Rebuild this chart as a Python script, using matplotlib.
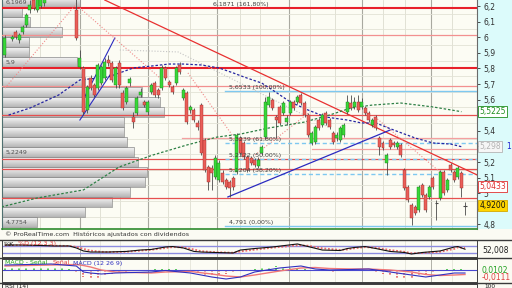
import numpy as np
import matplotlib
matplotlib.use("Agg")
import matplotlib.pyplot as plt
import matplotlib.transforms as mtransforms
from matplotlib.patches import Rectangle
from matplotlib.lines import Line2D

W, H = 512, 288

# ---- daily candles (x = session index) ----
day = [0, 2, 3, 4, 5, 6, 7, 8, 9, 10, 11] + list(range(20, 130))
opens = [5.886, 5.988, 6.033, 5.982, 6.033, 6.078, 6.174, 6.238, 6.174, 6.2, 6.219,
         6.174, 5.809, 5.803, 5.533, 5.738, 5.694, 5.674, 5.706, 5.738, 5.854,
         5.835, 5.694, 5.835, 5.642, 5.585, 5.706, 5.488, 5.514, 5.629, 5.585,
         5.521, 5.649, 5.706, 5.662, 5.674, 5.803, 5.713, 5.681, 5.706, 5.822,
         5.610, 5.642, 5.533, 5.533, 5.450, 5.565, 5.341, 5.168, 5.162, 5.104,
         5.085, 5.129, 5.085, 5.072, 5.097, 5.136, 5.354, 5.322, 5.232, 5.226,
         5.213, 5.174, 5.258, 5.360, 5.565, 5.597, 5.488, 5.553, 5.514, 5.456,
         5.514, 5.585, 5.585, 5.629, 5.578, 5.501, 5.322, 5.328, 5.469, 5.437,
         5.514, 5.469, 5.386, 5.354, 5.341, 5.373, 5.521, 5.578, 5.553, 5.585,
         5.553, 5.546, 5.514, 5.437, 5.488, 5.354, 5.322, 5.194, 5.341, 5.322,
         5.296, 5.309, 5.149, 5.040, 4.924, 4.912, 4.892, 5.053, 4.988, 4.976,
         5.097, 4.944, 4.969, 5.136, 5.021, 5.181, 5.136, 5.104, 5.129, 4.918]
highs = [6.014, 6.014, 6.046, 6.027, 6.078, 6.155, 6.238, 6.258, 6.271, 6.277, 6.28,
         6.251, 5.918, 5.815, 5.694, 5.758, 5.706, 5.835, 5.822, 5.867, 5.886,
         5.847, 5.815, 5.854, 5.662, 5.687, 5.745, 5.521, 5.623, 5.674, 5.597,
         5.597, 5.706, 5.719, 5.674, 5.822, 5.815, 5.726, 5.694, 5.815, 5.841,
         5.674, 5.655, 5.565, 5.546, 5.469, 5.578, 5.354, 5.181, 5.181, 5.245,
         5.213, 5.149, 5.097, 5.085, 5.110, 5.386, 5.367, 5.335, 5.245, 5.238,
         5.226, 5.232, 5.309, 5.617, 5.649, 5.610, 5.501, 5.565, 5.591, 5.501,
         5.597, 5.597, 5.629, 5.642, 5.591, 5.514, 5.399, 5.437, 5.482, 5.514,
         5.527, 5.482, 5.399, 5.392, 5.431, 5.450, 5.629, 5.629, 5.617, 5.629,
         5.610, 5.559, 5.527, 5.482, 5.501, 5.367, 5.335, 5.258, 5.354, 5.335,
         5.335, 5.322, 5.162, 5.053, 4.937, 4.924, 5.053, 5.065, 5.001, 5.053,
         5.110, 4.956, 5.149, 5.149, 5.097, 5.194, 5.149, 5.174, 5.142, 4.944]
lows = [5.873, 5.976, 5.988, 5.963, 6.021, 6.065, 6.155, 6.174, 6.162, 6.187, 6.2,
        5.982, 5.796, 5.501, 5.514, 5.662, 5.617, 5.662, 5.694, 5.726, 5.815,
        5.713, 5.674, 5.674, 5.533, 5.572, 5.687, 5.418, 5.501, 5.617, 5.553,
        5.501, 5.636, 5.617, 5.610, 5.662, 5.726, 5.681, 5.636, 5.694, 5.764,
        5.597, 5.444, 5.514, 5.456, 5.405, 5.245, 5.136, 5.021, 5.021, 5.091,
        5.072, 5.059, 5.027, 4.976, 5.021, 5.123, 5.245, 5.219, 5.136, 5.181,
        5.168, 5.162, 5.245, 5.347, 5.553, 5.533, 5.354, 5.437, 5.501, 5.437,
        5.501, 5.533, 5.572, 5.565, 5.488, 5.360, 5.309, 5.315, 5.405, 5.424,
        5.437, 5.412, 5.315, 5.335, 5.328, 5.360, 5.508, 5.533, 5.540, 5.521,
        5.540, 5.501, 5.456, 5.424, 5.405, 5.245, 5.277, 5.117, 5.283, 5.296,
        5.283, 5.232, 5.021, 4.944, 4.796, 4.860, 4.879, 4.976, 4.879, 4.963,
        5.027, 4.828, 4.956, 4.988, 5.008, 5.136, 5.072, 5.091, 4.976, 4.860]
closes = [5.995, 6.001, 6.001, 6.014, 6.065, 6.142, 6.206, 6.187, 6.251, 6.258, 6.264,
          5.995, 5.867, 5.521, 5.681, 5.674, 5.629, 5.822, 5.809, 5.841, 5.835,
          5.726, 5.803, 5.694, 5.546, 5.674, 5.732, 5.456, 5.610, 5.649, 5.565,
          5.585, 5.694, 5.629, 5.629, 5.803, 5.738, 5.694, 5.649, 5.803, 5.777,
          5.662, 5.456, 5.553, 5.469, 5.424, 5.258, 5.149, 5.072, 5.129, 5.226,
          5.194, 5.072, 5.040, 5.033, 5.040, 5.373, 5.258, 5.232, 5.149, 5.194,
          5.181, 5.213, 5.296, 5.585, 5.617, 5.546, 5.469, 5.450, 5.578, 5.482,
          5.585, 5.546, 5.617, 5.578, 5.501, 5.373, 5.386, 5.424, 5.418, 5.501,
          5.450, 5.424, 5.328, 5.373, 5.418, 5.437, 5.585, 5.546, 5.585, 5.533,
          5.585, 5.514, 5.469, 5.469, 5.418, 5.296, 5.290, 5.245, 5.296, 5.309,
          5.322, 5.245, 5.033, 4.956, 4.841, 4.873, 5.040, 4.988, 4.892, 5.040,
          5.040, 4.937, 5.136, 5.001, 5.085, 5.149, 5.085, 5.162, 5.033, 4.920]

# moving averages
ma_short_x = [1, 7, 15, 21, 29, 36, 41, 46, 50, 55, 60, 64, 67, 72, 75, 80, 85, 90, 96, 100, 104, 109, 115, 120, 125, 128]
ma_short = [5.501, 5.546, 5.629, 5.726, 5.745, 5.803, 5.815, 5.828, 5.828, 5.822, 5.803, 5.771, 5.745,
            5.706, 5.662, 5.585, 5.533, 5.488, 5.469, 5.450, 5.450, 5.405, 5.354, 5.322, 5.315, 5.298]
ma_long_x = [-1, 9, 22, 32, 41.5, 51, 59.5, 66, 74, 84, 91, 97, 103, 111, 120, 128]
ma_long = [4.912, 4.969, 5.021, 5.168, 5.245, 5.309, 5.360, 5.379, 5.418, 5.456, 5.501, 5.546,
           5.565, 5.578, 5.553, 5.5225]

# volume by price
vp_price = [6.226, 6.162, 6.097, 6.033, 5.969, 5.905, 5.841, 5.777, 5.713, 5.649, 5.585, 5.521,
            5.456, 5.392, 5.328, 5.264, 5.200, 5.136, 5.072, 5.008, 4.944, 4.879, 4.815]
vp_volume = [78, 20, 28, 60, 27, 27, 75, 82, 83, 140, 158, 162, 122, 122, 125, 132, 136, 145, 143,
             128, 110, 83, 35]
vp_labels = {0: "6,1969", 6: "5,9", 15: "5,2249", 22: "4,7754"}

# horizontal support / resistance
red_levels = [6.19, 6.014, 5.8, 5.687, 5.501, 5.354, 5.283, 5.219, 5.155, 4.969]
red_start = [None, None, None, None, None, 49.6, 86, None, None, None]
red_thick = [True, False, True, False, False, False, False, False, False, False]
red_col = ["#e8202a", "#f29090", "#e8202a", "#f29090", "#e65050", "#f4a0a0", "#f4a0a0",
           "#e65050", "#e65050", "#e65050"]

# fibonacci retracement
fib_price = [4.791, 5.1204, 5.2222, 5.3239, 5.6533, 6.1871]
fib_text = ["4,791 (0,00%)", "5,1204 (38,20%)", "5,2222 (50,00%)", "5,3239 (61,80%)",
            "5,6533 (100,00%)", "6,1871 (161,80%)"]

# stochastic
st_x = [0, 4, 10, 14, 18, 20, 22, 24, 27, 29, 34, 38, 41, 45, 47, 50, 53, 55, 59, 64, 66, 70, 75,
        82, 85, 89, 94, 96, 98, 101, 104, 108, 112, 114, 117, 122, 126, 127, 129]
st_k = [88, 88, 84, 80, 80, 63, 37, 28, 28, 28, 33, 45, 50, 71, 75, 63, 33, 28, 24, 20, 45, 58, 71,
        97, 75, 45, 41, 58, 67, 75, 58, 33, 24, 11, 24, 37, 71, 75, 52]
st_d = [85, 87, 86, 82, 80, 72, 55, 40, 30, 28, 30, 40, 47, 62, 70, 68, 50, 35, 27, 22, 33, 48, 65,
        85, 82, 60, 46, 50, 60, 70, 65, 45, 30, 18, 20, 30, 55, 68, 62]

# MACD
macd_x = [0, 13, 20, 22, 24, 27, 31, 41, 45, 52, 58, 62, 66, 70, 77, 83, 87, 91, 97, 102, 108, 114,
          118, 122, 126, 129]
macd = [0.05, 0.06, 0.04, -0.02, -0.03, -0.04, -0.03, -0.02, -0.005, -0.03, -0.07, -0.09, -0.07,
        -0.02, 0.02, 0.04, 0.01, 0.0, 0.005, 0.01, -0.02, -0.05, -0.07, -0.05, -0.03, -0.03]
signal = [0.04, 0.05, 0.055, 0.045, 0.03, 0.0, -0.02, -0.03, -0.02, -0.015, -0.04, -0.06, -0.07,
          -0.05, -0.01, 0.02, 0.025, 0.015, 0.01, 0.01, 0.0, -0.02, -0.045, -0.055, -0.05, -0.045]
hist_x = list(range(0, 129, 2))
hist = [0.02, 0.025, 0.03, 0.03, 0.03, 0.03, 0.025, 0.02, 0.02, 0.01, -0.02, -0.07, -0.09, -0.08,
        -0.06, -0.04, -0.03, -0.02, -0.01, 0.0, 0.005, 0.01, 0.015, 0.015, 0.01, -0.005, -0.02,
        -0.03, -0.05, -0.055, -0.05, -0.04, -0.03, -0.01, 0.005, 0.015, 0.025, 0.035, 0.04, 0.035,
        0.03, 0.02, 0.01, -0.005, -0.01, -0.01, -0.015, -0.01, -0.005, -0.005, -0.005, -0.01,
        -0.02, -0.04, -0.06, -0.075, -0.08, -0.075, -0.06, -0.04, -0.02, 0.005, 0.01, 0.012, 0.01]

grid_light = [4.2, 9.8, 15.4, 26.6, 32.2, 45.7, 51.9, 65.9, 71.5, 85.5, 92.5, 106, 112.2, 125.4]
grid_dark = [21, 40.1, 59.5, 79.6, 100.1, 119.5]

XL = (-0.84, 132.36)
YL = (4.7705, 6.2385)
BIN = 0.0641

fig = plt.figure(figsize=(W / 100, H / 100), dpi=100)
fig.patch.set_facecolor("#fbfbf3")


def panel(x0, y0, x1, y1):
    return fig.add_axes([x0 / W, 1 - y1 / H, (x1 - x0) / W, (y1 - y0) / H])


def bare(a):
    a.set_xticks([])
    a.set_yticks([])
    for s in a.spines.values():
        s.set_visible(False)


fig.add_artist(Rectangle((477 / W, 1 - 229 / H), 35 / W, 229 / H, transform=fig.transFigure,
                         fc="#dcfbfb", ec="none", zorder=-1))

# background grid
bg = panel(2, 0, 477, 229)
bare(bg)
bg.set_facecolor("#fcfcf4")
bg.set_xlim(XL)
bg.set_ylim(YL)
for gx in grid_light:
    bg.axvline(gx, color="#dcdccf", lw=0.6)
for gx in grid_dark:
    bg.axvline(gx, color="#a9a9a0", lw=0.8)
for gy in np.arange(4.75, 6.3, 0.1):
    bg.axhline(gy, color="#e2e2d6", lw=0.6)

# volume profile
vp = panel(2, 0, 477, 229)
bare(vp)
vp.patch.set_visible(False)
grad = np.linspace(0.96, 0.72, 12).reshape(-1, 1)
for k, (p, v) in enumerate(zip(vp_price, vp_volume)):
    y0 = p - BIN / 2
    vp.imshow(grad, extent=(0, v, y0, y0 + BIN), aspect="auto", cmap="gray", vmin=0, vmax=1,
              interpolation="bilinear", zorder=1)
    vp.add_patch(Rectangle((0, y0), v, BIN, fill=False, ec="#8a8a8a", lw=0.5, zorder=2))
    if k in vp_labels:
        vp.text(3, p, vp_labels[k], fontsize=4.5, color="#505050", va="center", ha="left", zorder=3)
vp.set_xlim(-0.5, 475)
vp.set_ylim(YL)

# main price panel
ax = panel(2, 0, 477, 229)
ax.patch.set_visible(False)
ax.set_xlim(XL)
ax.set_ylim(YL)

for lev, st, thick, col in zip(red_levels, red_start, red_thick, red_col):
    x0 = XL[0] if st is None else st
    ax.plot([x0, XL[1]], [lev, lev], color=col, lw=1.5 if thick else 0.9, zorder=3)

for i, (fp, ft) in enumerate(zip(fib_price, fib_text)):
    ls = "-" if i in (0, 4) else (0, (3, 2))
    if i < 5:
        ax.plot([61.7, XL[1]], [fp, fp], color="#7ec8f0", lw=1.0, ls=ls, zorder=3)
    tx = 58.3 if i == 5 else 62.8
    ax.text(tx, fp + 0.006, ft, fontsize=4.5, color="#404040", va="bottom", ha="left", zorder=6)

# trend lines
ax.plot([28.0, 132.4], [6.238, 5.117], color="#e83030", lw=0.9, zorder=3)
ax.plot([62.5, 108.0], [4.976, 5.405], color="#2a2ac0", lw=0.9, zorder=3)
ax.plot([21.9, 30.8], [5.597, 5.995], color="#2a2ac0", lw=0.8, zorder=3)
ax.plot([21.0, 30.0], [5.469, 5.777], color="#2a2ac0", lw=0.8, zorder=3)
dot = (0, (1, 1.6))
for xs, ys in [([0, 20.2], [5.674, 6.219]), ([21.0, 43.5], [6.187, 5.738]),
               ([51.3, 63.7], [5.771, 5.373]), ([70.1, 85.5], [5.245, 5.521]),
               ([103.8, 122.0], [5.488, 5.136])]:
    ax.plot(xs, ys, color="#f08a8a", lw=0.8, ls=dot, zorder=3)
for xs, ys in [([32.2, 49.1], [5.918, 5.905]), ([49.1, 91.1], [5.899, 5.418])]:
    ax.plot(xs, ys, color="#c4c4c4", lw=0.8, ls=dot, zorder=3)

ax.plot(ma_short_x, ma_short, color="#2525a0", lw=0.9, ls=(0, (2.0, 1.5)), zorder=3)
ax.plot(ma_long_x, ma_long, color="#2e8046", lw=0.9, ls=(0, (2.0, 1.5)), zorder=3)

for d, o, hi, lo, c in zip(day, opens, highs, lows, closes):
    ax.vlines(d, lo, hi, color="#4a4a4a", lw=0.6, zorder=4)
    if abs(c - o) < 0.01:
        ax.hlines(c, d - 0.45, d + 0.45, color="#4a4a4a", lw=0.8, zorder=5)
        continue
    up = c > o
    ax.add_patch(Rectangle((d - 0.42, min(o, c)), 0.84, abs(c - o),
                           fc="#38d838" if up else "#ea5e58",
                           ec="#1d7a1d" if up else "#9a2a2a", lw=0.3, zorder=5))

ticks = [4.8, 4.9, 5.0, 5.1, 5.2, 5.3, 5.4, 5.5, 5.6, 5.7, 5.8, 5.9, 6.0, 6.1, 6.2]
covered = [4.9, 5.3, 5.5]   # hidden behind the value boxes
ax.yaxis.tick_right()
ax.set_yticks(ticks)
ax.set_yticklabels(["" if t in covered else (f"{t:.1f}".rstrip("0").rstrip(".")).replace(".", ",")
                    for t in ticks], fontsize=5.5, color="#303030")
ax.tick_params(axis="y", length=2, width=0.6, pad=2.5, colors="#303030")
ax.set_xticks([])
ax.spines["top"].set_visible(False)
ax.spines["left"].set_color("#507070")
ax.spines["right"].set_color("#6a6a6a")
ax.spines["right"].set_linewidth(0.8)
ax.spines["bottom"].set_color("#2e8b2e")
ax.spines["bottom"].set_linewidth(1.2)

tr = mtransforms.blended_transform_factory(ax.transAxes, ax.transData)
for val, txt, fc, tc, ec in [(5.5225, "5,5225", "white", "#1f8f1f", "#1f8f1f"),
                             (5.298, "5,298", "#f6f6f6", "#b4b4b4", "#b4b4b4"),
                             (5.0433, "5,0433", "white", "#e03030", "#e03030"),
                             (4.92, "4,9200", "#ffd500", "#101010", "#d4a800")]:
    ax.text(1.005, val, txt, transform=tr, ha="left", va="center", fontsize=5.5, color=tc,
            bbox=dict(boxstyle="square,pad=0.15", fc=fc, ec=ec, lw=0.6), clip_on=False, zorder=8)
ax.text(1.062, 5.298, "1", transform=tr, ha="left", va="center", fontsize=5.5, color="#2020d0",
        clip_on=False)

fig.text(5 / W, 1 - 234 / H, "\u00a9 ProRealTime.com  Históricos ajustados con dividendos",
         fontsize=4.6, color="#333333", va="center", ha="left")

# stochastic panel
st_ax = panel(2, 240, 477, 257)
st_ax.set_facecolor("#fcfcf4")
st_ax.set_xlim(XL)
st_ax.set_ylim(-14.6, 131)
st_ax.set_xticks([])
st_ax.set_yticks([])
for gx in grid_dark:
    st_ax.axvline(gx, color="#b0b0a8", lw=0.7)
for gx in grid_light:
    st_ax.axvline(gx, color="#e0e0d4", lw=0.5)
st_ax.axhline(80, color="#8c8ce0", lw=1.0)
st_ax.axhline(20, color="#8c8ce0", lw=1.0)
st_ax.plot(st_x, st_d, color="#ec6a6a", lw=1.3, ls=(0, (1, 1)))
st_ax.plot(st_x, st_k, color="#111111", lw=0.8)
for s in st_ax.spines.values():
    s.set_color("#404040")
    s.set_linewidth(0.7)
fig.text(4 / W, 1 - 244 / H, "%K", fontsize=4.6, color="#111111", va="center")
fig.text(18 / W, 1 - 244 / H, "%D (12 3 3)", fontsize=4.6, color="#e04040", va="center")
fig.text(482 / W, 1 - 250 / H, "52,008", fontsize=5.5, color="#202020", va="center")

# MACD panel
md = panel(2, 259, 477, 282)
md.set_facecolor("#fcfcf4")
md.set_xlim(XL)
md.set_ylim(-0.12, 0.11)
md.set_xticks([])
md.set_yticks([])
for gx in grid_dark:
    md.axvline(gx, color="#b0b0a8", lw=0.7)
for gx in grid_light:
    md.axvline(gx, color="#e0e0d4", lw=0.5)
for hx, hv in zip(hist_x, hist):
    md.vlines(hx, 0, hv, color="#2cc02c" if hv > 0 else "#e04040", lw=1.1, ls=(0, (1, 1)))
md.axhline(0, color="#4848d0", lw=0.8)
md.plot(macd_x, signal, color="#f07878", lw=1.0)
md.plot(macd_x, macd, color="#3030c0", lw=0.8)
for s in md.spines.values():
    s.set_color("#404040")
    s.set_linewidth(0.7)
fig.text(5 / W, 1 - 263 / H, "MACD - Señal", fontsize=4.5, color="#20a020", va="center")
fig.text(53 / W, 1 - 263 / H, "Señal", fontsize=4.5, color="#e04040", va="center")
fig.text(73 / W, 1 - 263 / H, "MACD (12 26 9)", fontsize=4.5, color="#3030c0", va="center")
fig.text(482 / W, 1 - 270 / H, "0,0102", fontsize=5.5, color="#20a020", va="center")
fig.text(482 / W, 1 - 277.5 / H, "-0,0111", fontsize=5.5, color="#e04040", va="center")

# RSI panel (mostly cut off)
rs = panel(2, 284, 477, 310)
rs.set_facecolor("#fcfcf4")
rs.set_xticks([])
rs.set_yticks([])
for s in rs.spines.values():
    s.set_color("#404040")
    s.set_linewidth(0.7)
fig.text(5 / W, 1 - 283.8 / H, "RSI (14)", fontsize=4.2, color="#202020", va="top")
fig.text(484 / W, 1 - 283.8 / H, "100", fontsize=4.2, color="#202020", va="top")

for yy in (239.5, 258, 283):
    fig.add_artist(Line2D([0, 1], [1 - yy / H, 1 - yy / H], transform=fig.transFigure,
                          color="#3a3a3a", lw=1.0))

fig.savefig("out.png", dpi=100)
